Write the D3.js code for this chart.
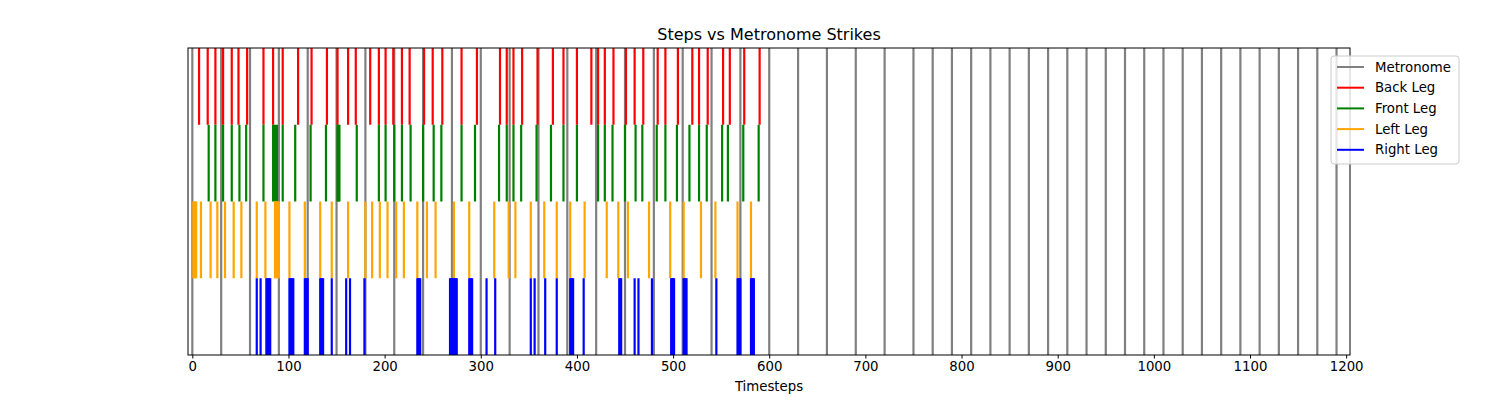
<!DOCTYPE html>
<html lang="en">
<head>
<meta charset="UTF-8">
<title>Steps vs Metronome Strikes</title>
<script src="https://d3js.org/d3.v7.min.js"></script>
<style>
  body { margin: 0; background: #fff; }
  text { font-family: "DejaVu Sans", sans-serif; }
</style>
</head>
<body>
<svg id="chart" width="1500" height="400"></svg>
<script>
// metronome strikes (timesteps)
var metronome = [0, 30, 60, 90, 120, 150, 180, 210, 240, 270, 300, 330, 360, 390, 420, 450, 480, 510,
  540, 570, 600, 630, 660, 690, 720, 750, 770, 790, 810, 830, 850, 870, 890, 910, 930, 950, 970, 990,
  1010, 1030, 1050, 1070, 1090, 1110, 1130, 1150, 1170, 1190];

var backLeg = [7, 16, 24, 32, 41, 48, 57, 74, 84, 94, 110, 124, 140, 151, 162, 170, 185, 194, 201, 209,
  218, 226, 241, 250, 260, 280, 296, 320, 327, 334, 343, 359, 375, 386, 400, 415, 422, 429, 438,
  451, 460, 469, 484, 492, 505, 520, 527, 536, 552, 559, 574, 590];

var frontLeg = [17, 24, 32, 41, 49, 56, 74, 84, 86, 88, 94, 107, 123, 139, 151, 152, 153, 171, 194, 201,
  210, 218, 227, 240, 251, 259, 280, 294, 319, 327, 334, 342, 358, 373, 386, 400, 422, 429, 437,
  450, 461, 468, 483, 492, 504, 517, 527, 535, 551, 557, 573, 589];

var leftLeg = [1, 2, 3, 4, 9, 19, 26, 34, 43, 51, 67, 76, 86, 87, 88, 89, 90, 101, 117, 133, 145, 162,
  180, 187, 195, 203, 212, 220, 234, 244, 253, 272, 288, 314, 329, 336, 352, 366, 379, 393, 408,
  431, 443, 453, 475, 497, 511, 529, 544, 567, 581];

var rightLeg = [67, 71, 77, 78, 79, 80, 81, 101, 102, 103, 104, 105, 117, 118, 119, 120, 133, 134, 135, 136,
  145, 160, 164, 179, 234, 235, 236, 237, 268, 269, 270, 271, 272, 273, 274, 275, 288, 289, 290, 291,
  306, 315, 352, 356, 367, 379, 393, 394, 395, 396, 407, 444, 445, 446, 460, 464, 478,
  498, 499, 500, 501, 511, 512, 513, 514, 545, 567, 568, 569, 570, 581, 582, 583, 584];

var legs = [
  { name: "Back Leg", color: "red", data: backLeg, lo: 0.75, hi: 1 },
  { name: "Front Leg", color: "green", data: frontLeg, lo: 0.5, hi: 0.75 },
  { name: "Left Leg", color: "orange", data: leftLeg, lo: 0.25, hi: 0.5 },
  { name: "Right Leg", color: "blue", data: rightLeg, lo: 0, hi: 0.25 }
];
var xTicks = d3.range(0, 1201, 100);

var margin = { left: 188, right: 150, top: 48, bottom: 45 };
var W = 1500, H = 400;
var svg = d3.select("#chart");

var x = d3.scaleLinear().domain([-4.5, 1204]).range([margin.left, W - margin.right]);
var y = d3.scaleLinear().domain([0, 1]).range([H - margin.bottom, margin.top]);

var plot = svg.append("g");

plot.selectAll("line.metro")
  .data(metronome).enter().append("line")
  .attr("class", "metro")
  .attr("x1", function (d) { return x(d); })
  .attr("x2", function (d) { return x(d); })
  .attr("y1", y(0)).attr("y2", y(1))
  .attr("stroke", "gray").attr("stroke-width", 2.2);

legs.forEach(function (leg) {
  plot.selectAll(null)
    .data(leg.data).enter().append("line")
    .attr("x1", function (d) { return x(d); })
    .attr("x2", function (d) { return x(d); })
    .attr("y1", y(leg.lo)).attr("y2", y(leg.hi))
    .attr("stroke", leg.color).attr("stroke-width", 2.2);
});

// frame
svg.append("rect")
  .attr("x", margin.left).attr("y", margin.top)
  .attr("width", W - margin.right - margin.left)
  .attr("height", H - margin.bottom - margin.top)
  .attr("fill", "none").attr("stroke", "black").attr("stroke-width", 1);

var xAxis = svg.append("g")
  .attr("transform", "translate(0," + (H - margin.bottom) + ")")
  .call(d3.axisBottom(x).tickValues(xTicks).tickFormat(d3.format("d")).tickSize(3.5).tickPadding(3.5));
xAxis.select(".domain").remove();
xAxis.selectAll("text").attr("font-size", 13.3).attr("fill", "black")
  .style("font-family", "DejaVu Sans, sans-serif");

svg.append("text")
  .attr("x", (margin.left + W - margin.right) / 2).attr("y", 391)
  .attr("text-anchor", "middle").attr("font-size", 13.3)
  .text("Timesteps");

svg.append("text")
  .attr("x", (margin.left + W - margin.right) / 2).attr("y", 40)
  .attr("text-anchor", "middle").attr("font-size", 16)
  .text("Steps vs Metronome Strikes");

// legend
var legendItems = [{ name: "Metronome", color: "gray" }].concat(legs);
var lg = svg.append("g").attr("transform", "translate(1331,56)");
lg.append("rect")
  .attr("width", 128).attr("height", 108).attr("rx", 3)
  .attr("fill", "white").attr("fill-opacity", 0.8)
  .attr("stroke", "#cccccc");
legendItems.forEach(function (d, i) {
  var yy = 11 + i * 20.7;
  lg.append("line").attr("x1", 6).attr("x2", 33).attr("y1", yy).attr("y2", yy)
    .attr("stroke", d.color).attr("stroke-width", 2);
  lg.append("text").attr("x", 44).attr("y", yy + 4.5).attr("font-size", 13.3).text(d.name);
});
</script>
</body>
</html>
